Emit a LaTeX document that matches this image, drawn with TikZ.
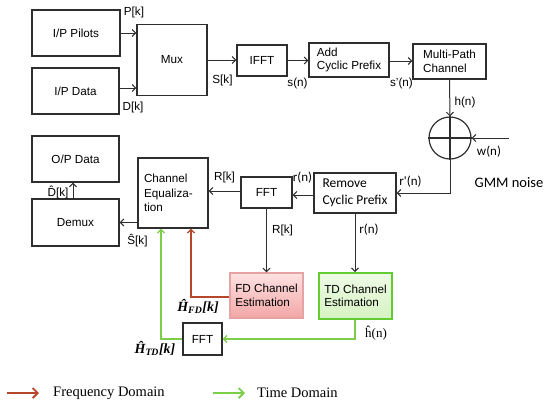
\documentclass[tikz,border=0pt]{standalone}
\usepackage{fontspec}
\setmainfont{Liberation Sans}
\newfontfamily\calfont{Carlito}
\newfontfamily\tnrfont{Liberation Serif}
\usetikzlibrary{arrows.meta,shapes.geometric}
\definecolor{boxline}{HTML}{2E2E2E}
\definecolor{fdred}{HTML}{B5472B}
\definecolor{tdgreen}{HTML}{7CCD4A}
\definecolor{fdborder}{HTML}{E6A3A3}
\definecolor{fdtop}{HTML}{FDE2E2}
\definecolor{fdbot}{HTML}{F3A6A6}
\definecolor{tdborder}{HTML}{62CC30}
\definecolor{tdtop}{HTML}{EEFBE6}
\definecolor{tdbot}{HTML}{D6F2C2}
\begin{document}
\begin{tikzpicture}[x=1pt,y=-1pt,
  box/.style={draw=boxline,line width=1.2pt,rectangle,inner sep=0pt,font=\fontsize{11.7}{13.5}\selectfont},
  lbox/.style={box,align=left},
  arr/.style={draw=boxline,line width=1pt,-{Straight Barb[length=3.5pt,width=7pt,line width=1pt]}},
  redarr/.style={draw=fdred,line width=1.3pt,-{Straight Barb[length=3.5pt,width=7pt,line width=1.3pt]}},
  greenarr/.style={draw=tdgreen,line width=1.3pt,-{Straight Barb[length=3.5pt,width=7pt,line width=1.3pt]}},
  lab/.style={inner sep=0pt,font=\fontsize{11.7}{13.5}\selectfont},
  clab/.style={inner sep=0pt,font=\calfont\fontsize{13}{15}\selectfont},
  mlab/.style={inner sep=0pt,font=\tnrfont\bfseries\itshape\fontsize{14}{16}\selectfont},
  leg/.style={inner sep=0pt,anchor=west,font=\tnrfont\fontsize{14.5}{16}\selectfont}
]
\useasboundingbox (0,0) rectangle (550,408);

% transmitter
\node[box,minimum width=88pt,minimum height=46pt] (pil) at (76,33) {I/P Pilots};
\node[box,minimum width=87pt,minimum height=46pt] (dat) at (75.5,91) {I/P Data};
\node[box,minimum width=70pt,minimum height=71pt] (mux) at (172,60) {Mux};
\node[box,minimum width=50pt,minimum height=31pt] (ifft) at (262,60.5) {IFFT};
\node[lbox,minimum width=80pt,minimum height=34pt] (acp) at (349,60) {Add\\Cyclic Prefix};
\node[lbox,minimum width=73pt,minimum height=35pt] (mpc) at (449.5,61.5) {Multi-Path\\Channel};
\node[draw=boxline,line width=1.2pt,circle,minimum size=42pt,inner sep=0pt] (sum) at (450,138) {};
\draw[boxline,line width=1.2pt] (sum.north) -- (sum.south) (sum.west) -- (sum.east);

% receiver
\node[lbox,minimum width=82pt,minimum height=40pt,font=\calfont\fontsize{13.5}{17}\selectfont] (rcp) at (355,193) {Remove\\Cyclic Prefix};
\node[box,minimum width=51pt,minimum height=31pt] (fft1) at (266.5,192.5) {FFT};
\node[lbox,text width=58pt,inner xsep=6pt,minimum height=70pt,font=\fontsize{11.7}{14.5}\selectfont] (ceq) at (173,193) {Channel\\Equaliza-\\tion};
\node[box,minimum width=87pt,minimum height=46pt] (opd) at (75.5,159) {O/P Data};
\node[box,minimum width=87pt,minimum height=47pt] (dmx) at (75.5,222.5) {Demux};
\node[lbox,minimum width=73pt,minimum height=45pt,draw=fdborder,top color=fdtop,bottom color=fdbot] (fde) at (266.5,295.5) {FD Channel\\Estimation};
\node[lbox,minimum width=73pt,minimum height=46pt,draw=tdborder,line width=1.8pt,top color=tdtop,bottom color=tdbot] (tde) at (355.5,296) {TD Channel\\Estimation};
\node[box,minimum width=39pt,minimum height=32pt] (fft2) at (202.5,339) {FFT};

% coordinates
\coordinate (wn) at (509,138);
\coordinate (rcorner) at (450,193);
\coordinate (fdcorner) at (191,297);
\coordinate (tdcorner) at (355,339);
\coordinate (fftcorner) at (161,339);

% black connectors
\draw[arr] (pil.east) -- (pil.east -| mux.west);
\draw[arr] ([yshift=3pt]dat.east) -- ([yshift=3pt]dat.east -| mux.west);
\draw[arr] (mux.east) -- (mux.east -| ifft.west);
\draw[arr] (ifft.east) -- (ifft.east -| acp.west);
\draw[arr] (acp.east |- 0,61) -- (mpc.west |- 0,61);
\draw[arr] (mpc.south) -- (sum.north);
\draw[arr] (wn) -- (sum.east);
\draw[arr] (sum.south) -- (rcorner) -- (rcorner -| rcp.east);
\draw[arr] (rcp.west |- 0,195) -- (fft1.east |- 0,195);
\draw[arr] (fft1.west |- 0,191) -- (ceq.east |- 0,191);
\draw[arr] (dmx.east -| ceq.west) -- (dmx.east);
\draw[arr] ([xshift=-2.5pt]dmx.north) -- ([xshift=-2.5pt]opd.south);
\draw[arr] (fft1.south) -- (fft1.south |- fde.north);
\draw[arr] (rcp.south) -- (rcp.south |- tde.north);

% coloured connectors
\draw[redarr] (fde.west |- fdcorner) -- (fdcorner) -- (fdcorner |- ceq.south);
\draw[greenarr] (tde.south -| tdcorner) -- (tdcorner) -- (fft2.east);
\draw[greenarr] (fft2.west) -- (fftcorner) -- (fftcorner |- ceq.south);

% labels
\node[lab] (lpk) at (134,12.5) {P[k]};
\node[lab] (ldk) at (133,107) {D[k]};
\node[lab] (lsk) at (222.5,80) {S[k]};
\node[lab] (lsn) at (297.5,83.5) {s(n)};
\node[lab] (lspn) at (401.5,83.5) {s'(n)};
\node[lab] (lhn) at (465,102.5) {h(n)};
\node[clab] (lwn) at (489,152) {w(n)};
\node[inner sep=0pt,font=\calfont\fontsize{14.5}{16}\selectfont] (lgmm) at (509,182.5) {GMM noise};
\node[clab] (lrpn) at (410.5,182) {r'(n)};
\node[clab] (lrn1) at (302.5,177.5) {r(n)};
\node[lab] (lrk1) at (224.5,177.5) {R[k]};
\node[lab] (lrk2) at (282.5,230) {R[k]};
\node[clab] (lrn2) at (369,230) {r(n)};
\node[lab] (ldhat) at (58,192.5) {\^{D}[k]};
\node[lab] (lshat) at (137.5,241) {\^{S}[k]};
\node[mlab] (lhfd) at (198,306.5) {Ĥ\textsubscript{FD}[k]};
\node[mlab] (lhtd) at (155,348.5) {Ĥ\textsubscript{TD}[k]};
\node[inner sep=0pt,font=\tnrfont\fontsize{13}{15}\selectfont] (lhhat) at (376,333) {\^{h}(n)};

% legend
\coordinate (r1) at (7,393);
\coordinate (r2) at (39,393);
\coordinate (g1) at (213,393);
\coordinate (g2) at (245,393);
\draw[draw=fdred,line width=1.8pt,-{Straight Barb[length=5pt,width=10pt,line width=1.8pt]}] (r1) -- (r2);
\draw[draw=tdgreen,line width=1.8pt,-{Straight Barb[length=5pt,width=10pt,line width=1.8pt]}] (g1) -- (g2);
\node[leg] (lfreq) at (53,393) {Frequency Domain};
\node[leg] (ltime) at (257,393) {Time Domain};
\end{tikzpicture}
\end{document}
